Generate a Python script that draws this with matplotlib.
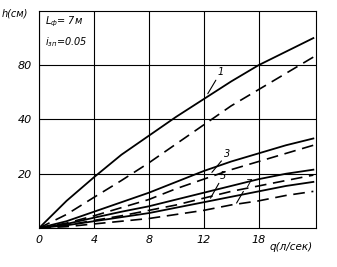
import numpy as np
import matplotlib
matplotlib.use("Agg")
import matplotlib.pyplot as plt

# ========== DATA ==========
q = [0, 2, 4, 6, 8, 10, 12, 14, 16, 18, 20]

h1_solid = [0, 10, 18.7, 27, 34, 41, 47.5, 54, 60, 65, 70]
h1_dash = [0, 5, 11.3, 17.5, 24, 31, 38, 45, 51, 57, 63]

h3_solid = [0, 2.5, 6, 9.5, 13, 17, 21, 24.5, 27.5, 30.5, 33]
h3_dash = [0, 1.8, 4.5, 7.5, 10.5, 14.5, 18, 21.5, 24.5, 27.5, 30.5]

h5_solid = [0, 1.5, 3.8, 6, 8, 10.5, 13, 15.5, 18, 20, 21.5]
h5_dash = [0, 1, 2.8, 4.5, 6.5, 8.5, 11, 13.5, 15.5, 17.5, 19.5]

h7_solid = [0, 1, 2.5, 4, 5.5, 7.5, 9.5, 11.5, 13.5, 15.5, 17]
h7_dash = [0, 0.5, 1.5, 2.5, 3.5, 5, 6.5, 8.5, 10, 12, 13.5]

x_ticks = [0, 4, 8, 12, 16]
x_labels = ["0", "4", "8", "12", "18"]
y_ticks = [20, 40, 60]
y_labels = ["20", "40", "80"]

curve_labels = ["1", "3", "5", "7"]
label_pos = [(13.0, 55.5), (13.5, 25.5), (13.2, 17.5), (15.0, 14.5)]
leader_from = [(12.3, 49.5), (12.6, 20.5), (12.5, 11.0), (14.4, 9.2)]

# ========== PLOT ==========
fig = plt.figure(figsize=(3.37, 2.67), dpi=100)
ax = fig.add_axes([0.116, 0.146, 0.822, 0.813])

dash = (0, (7, 4))
for s, d in [(h1_solid, h1_dash), (h3_solid, h3_dash),
             (h5_solid, h5_dash), (h7_solid, h7_dash)]:
    ax.plot(q, s, color="black", lw=1.3)
    ax.plot(q, d, color="black", lw=1.2, linestyle=dash)

ax.set_xlim(0, 20.2)
ax.set_ylim(0, 80)
ax.set_xticks(x_ticks)
ax.set_xticklabels(x_labels, fontstyle="italic", fontsize=8)
ax.set_yticks(y_ticks)
ax.set_yticklabels(y_labels, fontstyle="italic", fontsize=8)
ax.tick_params(length=0, pad=5)
ax.grid(True, color="black", lw=0.8)
for sp in ax.spines.values():
    sp.set_linewidth(0.8)

for lab, (tx, ty), (fx, fy) in zip(curve_labels, label_pos, leader_from):
    ax.annotate(lab, xy=(fx, fy), xytext=(tx, ty), fontsize=7,
                fontstyle="italic", ha="left", va="bottom",
                arrowprops=dict(arrowstyle="-", color="black", lw=0.8,
                                shrinkA=0, shrinkB=0))

fig.text(0.006, 0.94, "h(см)", fontsize=7, fontstyle="italic")
ax.text(0.4, 76, "$L_ф$= 7м", fontsize=7, fontstyle="italic", va="center")
ax.text(0.4, 68.5, "$i_{зп}$=0.05", fontsize=7, fontstyle="italic", va="center")
fig.text(0.80, 0.065, "q(л/сек)", fontsize=7.5, fontstyle="italic")

fig.savefig("out.png", dpi=100)
